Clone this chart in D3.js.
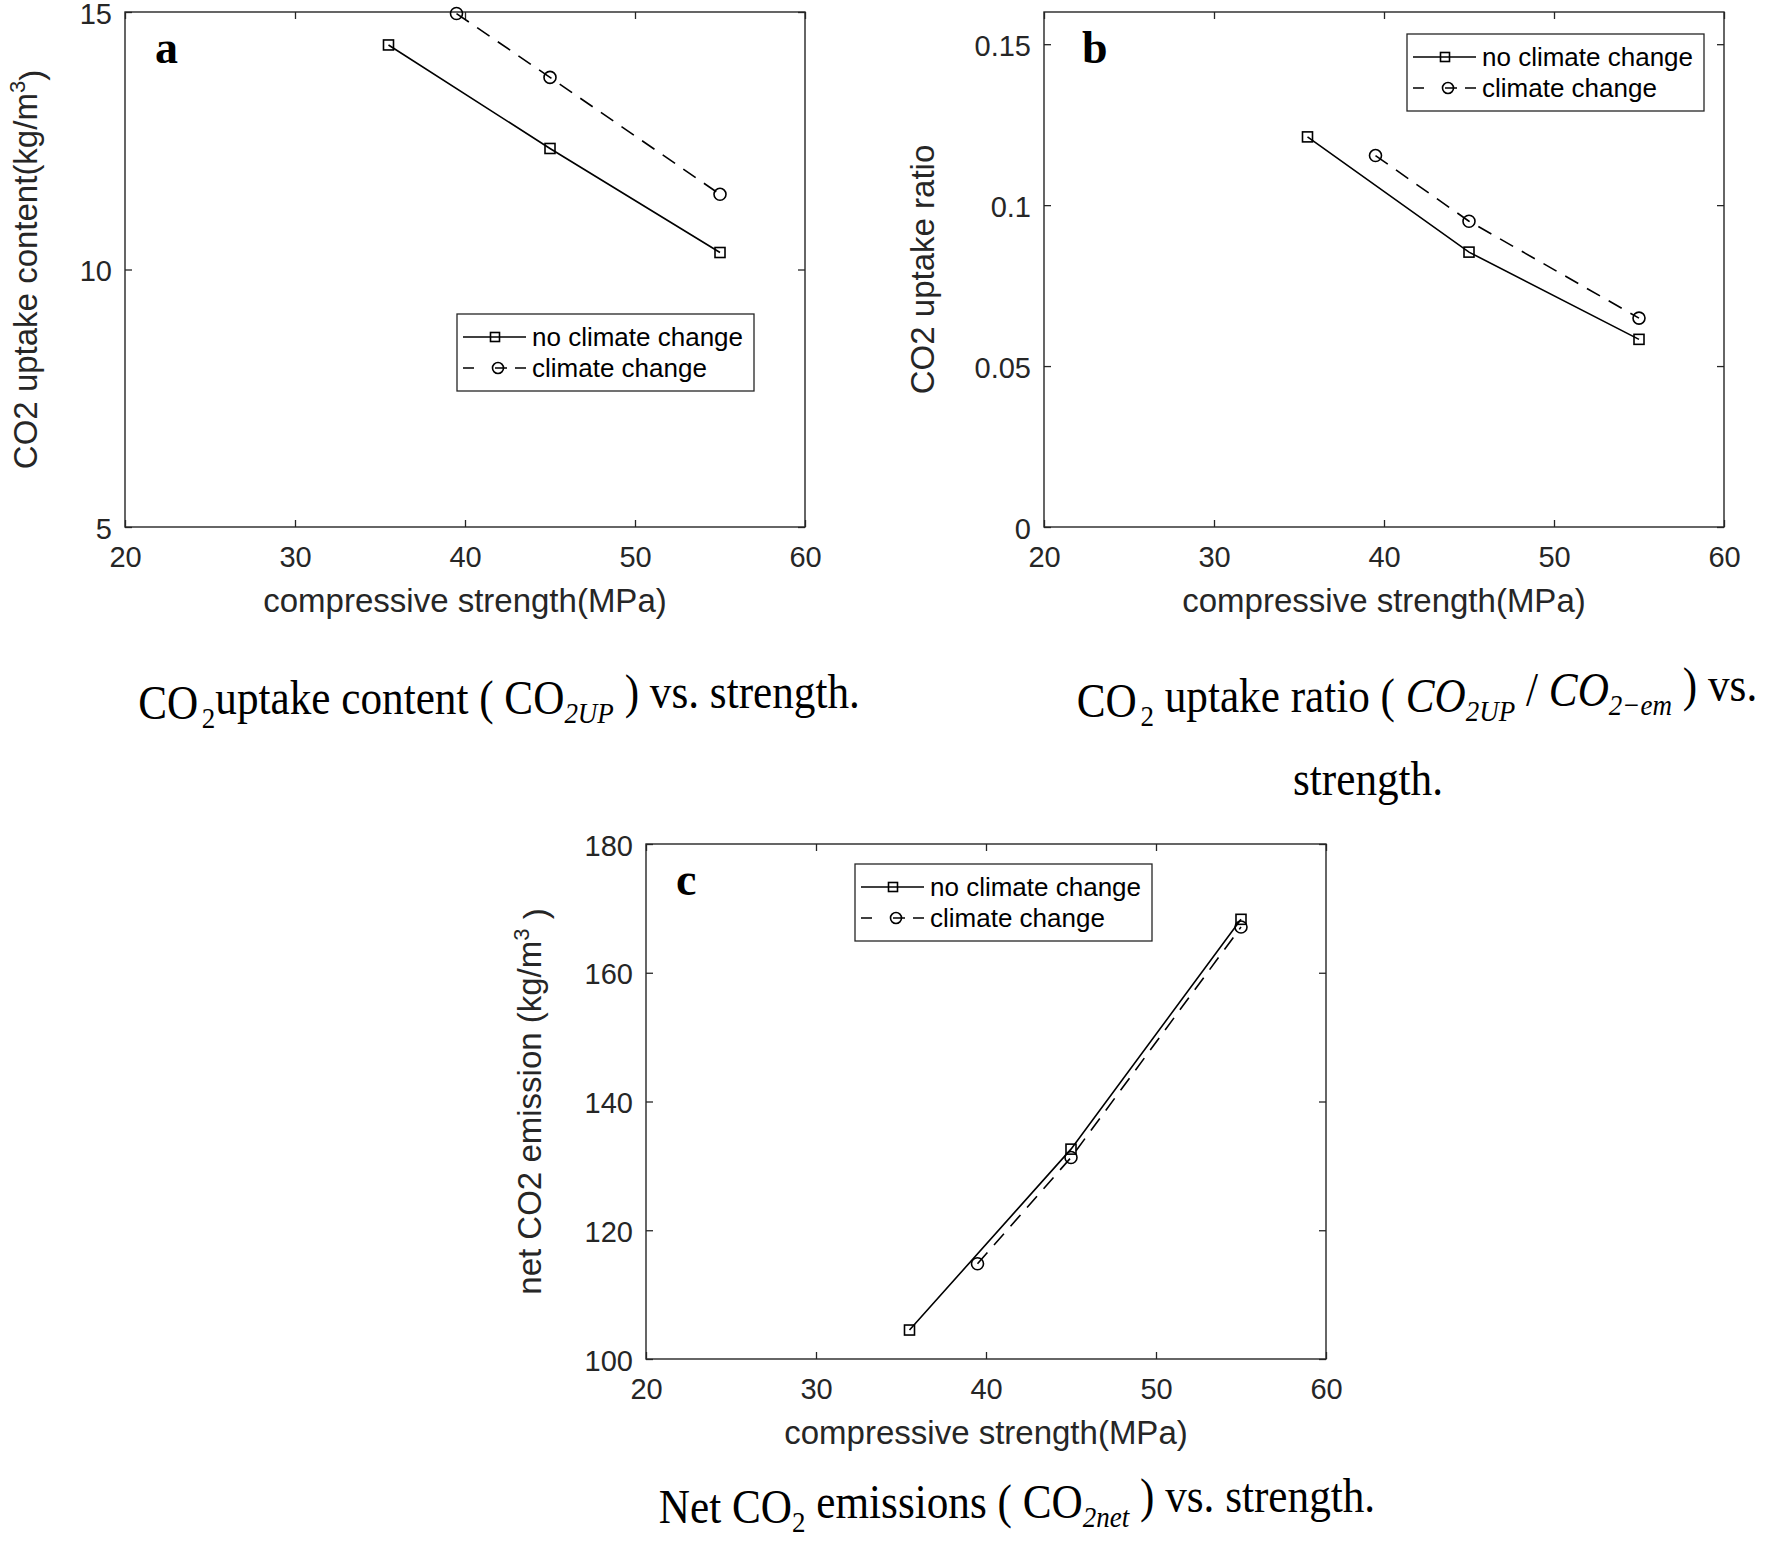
<!DOCTYPE html>
<html>
<head>
<meta charset="utf-8">
<script src="https://cdn.jsdelivr.net/npm/d3@7"></script>
<style>
  html, body { margin: 0; padding: 0; background: #fff; }
  svg { display: block; }
</style>
</head>
<body>
<svg id="chart" width="1773" height="1541"></svg>
<script>
// ---------------- data ----------------
const seriesNames = ["no climate change", "climate change"];
const xTicks = [20, 30, 40, 50, 60];
const strengthNC = [35.5, 45, 55];
const strengthCC = [39.5, 45, 55];

const uptakeNC = [14.36, 12.35, 10.33];
const uptakeCC = [14.97, 13.73, 11.46];
const yTicksA = [5, 10, 15];

const ratioNC = [0.1212, 0.0854, 0.0583];
const ratioCC = [0.1154, 0.0950, 0.0649];
const yTicksB = [0, 0.05, 0.1, 0.15];

const netNC = [104.5, 132.6, 168.3];
const netCC = [114.8, 131.3, 167.1];
const yTicksC = [100, 120, 140, 160, 180];

// ---------------- drawing ----------------
const svg = d3.select("#chart");
const AX = "#262626";
const SANS = "'Liberation Sans', Arial, Helvetica, sans-serif";
const SERIF = "'Liberation Serif', 'Times New Roman', serif";
const W = 680, H = 515;

function panel(opt) {
  const g = svg.append("g").attr("transform", `translate(${opt.left},${opt.top})`);
  const x = d3.scaleLinear().domain([20, 60]).range([0, W]);
  const y = d3.scaleLinear().domain(opt.yDomain).range([H, 0]);

  g.append("rect").attr("width", W).attr("height", H).attr("fill", "#fff");

  const styleAxis = (sel) => {
    sel.select(".domain").remove();
    sel.selectAll(".tick line").attr("stroke", AX).attr("stroke-width", 1.3);
    sel.selectAll(".tick text").attr("fill", AX).style("font-family", SANS).style("font-size", "29px");
  };

  g.append("g").attr("transform", `translate(0,${H})`)
    .call(d3.axisBottom(x).tickValues(xTicks).tickSize(-7).tickPadding(19).tickFormat(d3.format("d")))
    .call(styleAxis);
  g.append("g")
    .call(d3.axisTop(x).tickValues(xTicks).tickSize(-7).tickFormat(""))
    .call(styleAxis);
  g.append("g")
    .call(d3.axisLeft(y).tickValues(opt.yTicks).tickSize(-7).tickPadding(13).tickFormat(opt.fmt))
    .call(styleAxis)
    .call(s => s.selectAll(".tick text").attr("dy", "0.38em"));
  g.append("g").attr("transform", `translate(${W},0)`)
    .call(d3.axisRight(y).tickValues(opt.yTicks).tickSize(-7).tickFormat(""))
    .call(styleAxis);

  g.append("rect").attr("width", W).attr("height", H)
    .attr("fill", "none").attr("stroke", AX).attr("stroke-width", 1.4);

  // series
  const line = d3.line().x(d => x(d[0])).y(d => y(d[1]));
  const nc = strengthNC.map((s, i) => [s, opt.nc[i]]);
  const cc = strengthCC.map((s, i) => [s, opt.cc[i]]);

  g.append("path").datum(cc).attr("d", line).attr("fill", "none")
    .attr("stroke", "#000").attr("stroke-width", 1.6).attr("stroke-dasharray", "15,10");
  g.append("path").datum(nc).attr("d", line).attr("fill", "none")
    .attr("stroke", "#000").attr("stroke-width", 1.6);

  g.selectAll(".sq").data(nc).enter().append("rect")
    .attr("x", d => x(d[0]) - 5).attr("y", d => y(d[1]) - 5)
    .attr("width", 10).attr("height", 10)
    .attr("fill", "none").attr("stroke", "#000").attr("stroke-width", 1.6);
  g.selectAll(".ci").data(cc).enter().append("circle")
    .attr("cx", d => x(d[0])).attr("cy", d => y(d[1])).attr("r", 6)
    .attr("fill", "none").attr("stroke", "#000").attr("stroke-width", 1.6);

  // panel letter
  g.append("text").attr("x", opt.letterX).attr("y", 51)
    .style("font-family", SERIF).style("font-weight", "bold").style("font-size", "46px")
    .attr("fill", "#000").text(opt.letter);

  // x label
  g.append("text").attr("x", W / 2).attr("y", H + 85).attr("text-anchor", "middle")
    .style("font-family", SANS).style("font-size", "33px").attr("fill", AX)
    .text("compressive strength(MPa)");

  // y label
  const yl = g.append("text")
    .attr("transform", `translate(${-opt.ylabOff},${H / 2}) rotate(-90)`)
    .attr("text-anchor", "middle")
    .style("font-family", SANS).style("font-size", "33px").attr("fill", AX);
  opt.ylab(yl);

  // legend
  const lg = g.append("g").attr("transform", `translate(${opt.legX},${opt.legY})`);
  lg.append("rect").attr("width", 297).attr("height", 77)
    .attr("fill", "#fff").attr("stroke", AX).attr("stroke-width", 1.3);
  const rows = [23, 54];
  lg.append("line").attr("x1", 6).attr("x2", 69).attr("y1", rows[0]).attr("y2", rows[0])
    .attr("stroke", "#000").attr("stroke-width", 1.6);
  lg.append("rect").attr("x", 38 - 4.5).attr("y", rows[0] - 4.5).attr("width", 9).attr("height", 9)
    .attr("fill", "none").attr("stroke", "#000").attr("stroke-width", 1.6);
  lg.append("line").attr("x1", 6).attr("x2", 69).attr("y1", rows[1]).attr("y2", rows[1])
    .attr("stroke", "#000").attr("stroke-width", 1.6).attr("stroke-dasharray", "11,21,12,8,11");
  lg.append("circle").attr("cx", 41).attr("cy", rows[1]).attr("r", 5.5)
    .attr("fill", "none").attr("stroke", "#000").attr("stroke-width", 1.6);
  seriesNames.forEach((n, i) => {
    lg.append("text").attr("x", 75).attr("y", rows[i] + 9)
      .style("font-family", SANS).style("font-size", "26px").attr("fill", "#000").text(n);
  });
}

panel({
  left: 125, top: 12, yDomain: [5, 15], yTicks: yTicksA, fmt: d3.format("d"),
  nc: uptakeNC, cc: uptakeCC, letter: "a", letterX: 30, ylabOff: 88, legX: 332, legY: 302,
  ylab: t => {
    t.append("tspan").text("CO2 uptake content(kg/m");
    t.append("tspan").attr("dy", "-0.55em").style("font-size", "22px").text("3");
    t.append("tspan").attr("dy", "0.55em").text(")");
  }
});
panel({
  left: 1044, top: 12, yDomain: [0, 0.16], yTicks: yTicksB, fmt: d => d3.format("")(d),
  nc: ratioNC, cc: ratioCC, letter: "b", letterX: 38, ylabOff: 110, legX: 363, legY: 22,
  ylab: t => t.text("CO2 uptake ratio")
});
panel({
  left: 646, top: 844, yDomain: [100, 180], yTicks: yTicksC, fmt: d3.format("d"),
  nc: netNC, cc: netCC, letter: "c", letterX: 30, ylabOff: 105, legX: 209, legY: 20,
  ylab: t => {
    t.append("tspan").text("net CO2 emission (kg/m");
    t.append("tspan").attr("dy", "-0.55em").style("font-size", "22px").text("3");
    t.append("tspan").attr("dy", "0.55em").text(" )");
  }
});

// ---------------- captions ----------------
function caption(cx, cy, parts) {
  const t = svg.append("text")
    .attr("transform", `translate(${cx},${cy}) scale(0.9,1)`)
    .attr("text-anchor", "middle")
    .style("font-family", SERIF).style("font-size", "48px").attr("fill", "#000");
  parts.forEach(p => {
    const s = t.append("tspan").text(p.t);
    if (p.sub) s.attr("dy", p.sub).style("font-size", p.size || "30px");
    if (p.it) s.style("font-style", "italic");
    if (p.dx) s.attr("dx", p.dx);
  });
}
caption(499, 719, [
  { t: "CO" }, { t: "2", sub: "0.3em", dx: 4 }, { t: "uptake content ( ", sub: "-0.3em", size: "48px" },
  { t: "CO" }, { t: "2UP", sub: "0.3em", it: true }, { t: " ) vs. strength.", sub: "-0.3em", size: "48px" }
]);
caption(1417, 717, [
  { t: "CO" }, { t: "2", sub: "0.3em", dx: 4 }, { t: " uptake ratio ( ", sub: "-0.3em", size: "48px" },
  { t: "CO", it: true }, { t: "2UP", sub: "0.3em", it: true }, { t: " / ", sub: "-0.3em", size: "48px" },
  { t: "CO", it: true }, { t: "2\u2212em", sub: "0.3em", it: true }, { t: " ) vs.", sub: "-0.3em", size: "48px" }
]);
caption(1368, 795, [{ t: "strength." }]);
caption(1017, 1523, [
  { t: "Net CO" }, { t: "2", sub: "0.3em" }, { t: " emissions ( ", sub: "-0.3em", size: "48px" },
  { t: "CO" }, { t: "2net", sub: "0.3em", it: true }, { t: " ) vs. strength.", sub: "-0.3em", size: "48px" }
]);
</script>
</body>
</html>
